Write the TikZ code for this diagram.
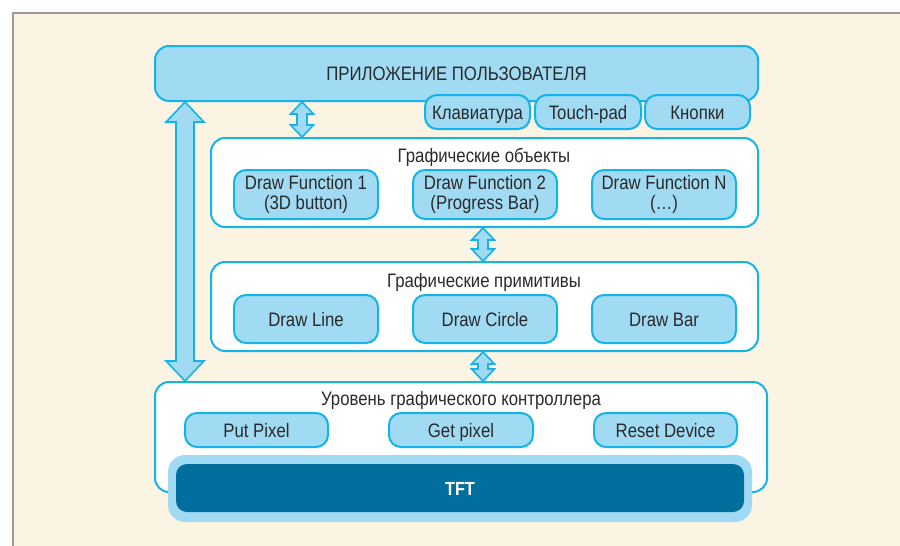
\documentclass[tikz,border=0pt]{standalone}
\usepackage{fontspec}
\setmainfont[FakeStretch=0.86]{Liberation Sans}
\usetikzlibrary{calc}
\definecolor{cream}{HTML}{FCF4E3}
\definecolor{frame}{HTML}{9B9B9B}
\definecolor{lblue}{HTML}{A1DAF3}
\definecolor{cyanline}{HTML}{14B4EA}
\definecolor{tftdark}{HTML}{006F9E}
\definecolor{ink}{HTML}{2A2A2A}

\tikzset{
  base/.style={inner sep=0pt, line width=2pt, draw=cyanline, text=ink,
    font=\fontsize{19.5}{20.5}\selectfont, align=center},
  layer/.style={base, fill=white, rounded corners=14pt},
  btn/.style={base, fill=lblue, rounded corners=12pt},
  oneline/.style={text height=14pt, text depth=0pt},
  title/.style={inner sep=0pt, text=ink, font=\fontsize{19.5}{20.5}\selectfont, oneline},
  arr/.style={fill=lblue, draw=cyanline, line width=1.6pt, line join=miter}
}

% vertical double arrow between two points:
% #1 top tip, #2 bottom tip, #3 head half width, #4 shaft half width, #5 head length
\newcommand\vdarrow[5]{%
  \draw[arr] let \p1=#1, \p2=#2 in
    (\x1,\y1) -- (\x1+#3pt,\y1-#5pt) -- (\x1+#4pt,\y1-#5pt)
    -- (\x1+#4pt,\y2+#5pt) -- (\x1+#3pt,\y2+#5pt) -- (\x1,\y2)
    -- (\x1-#3pt,\y2+#5pt) -- (\x1-#4pt,\y2+#5pt)
    -- (\x1-#4pt,\y1-#5pt) -- (\x1-#3pt,\y1-#5pt) -- cycle;}

\begin{document}
\begin{tikzpicture}[x=1pt,y=-1pt]
  \useasboundingbox (0,0) rectangle (900,546);
  \begin{scope}
    \clip (0,0) rectangle (900,546);
    \draw[frame, fill=cream, line width=2pt] (12.5,12.5) rectangle (920,570);
  \end{scope}

  % user application
  \node[btn, oneline, rounded corners=14pt, minimum width=603pt, minimum height=55pt]
    (app) at (456.5,73.5) {ПРИЛОЖЕНИЕ ПОЛЬЗОВАТЕЛЯ};
  \node[btn, oneline, minimum width=105pt, minimum height=34pt] (kbd) at (477.5,112) {Клавиатура};
  \node[btn, oneline, minimum width=106pt, minimum height=34pt] (tpad) at (588,112) {Touch-pad};
  \node[btn, oneline, minimum width=105pt, minimum height=34pt] (keys) at (697.5,112) {Кнопки};

  % graphic objects
  \node[layer, minimum width=547pt, minimum height=89pt] (obj) at (484.5,182.5) {};
  \node[title] (objt) at (484,155) {Графические объекты};
  \node[btn, minimum width=144pt, minimum height=49pt] (df1) at (306,194.5)
    {Draw Function 1\\(3D button)};
  \node[btn, minimum width=144pt, minimum height=49pt] (df2) at (485,194.5)
    {Draw Function 2\\(Progress Bar)};
  \node[btn, minimum width=144pt, minimum height=49pt] (dfn) at (664,194.5)
    {Draw Function N\\(\ldots)};

  % graphic primitives
  \node[layer, minimum width=547pt, minimum height=89pt] (prim) at (484.5,306.5) {};
  \node[title] (primt) at (484,280) {Графические примитивы};
  \node[btn, oneline, minimum width=144pt, minimum height=48pt] (line) at (306,319) {Draw Line};
  \node[btn, oneline, minimum width=144pt, minimum height=48pt] (circ) at (485,319) {Draw Circle};
  \node[btn, oneline, minimum width=144pt, minimum height=48pt] (bar) at (664,319) {Draw Bar};

  % graphic controller level
  \node[layer, minimum width=612pt, minimum height=110pt] (ctrl) at (461,437) {};
  \node[title] (ctrlt) at (461,398) {Уровень графического контроллера};
  \node[btn, oneline, minimum width=143pt, minimum height=34pt] (put) at (256.5,430) {Put Pixel};
  \node[btn, oneline, minimum width=144pt, minimum height=34pt] (get) at (461,430) {Get pixel};
  \node[btn, oneline, minimum width=143pt, minimum height=34pt] (rst) at (665.5,430) {Reset Device};

  % display
  \node[inner sep=0pt, fill=lblue, rounded corners=17pt, minimum width=584pt,
    minimum height=67pt] (tftout) at (460,488.5) {};
  \node[inner sep=0pt, fill=tftdark, rounded corners=11pt, minimum width=568pt,
    minimum height=48pt, text=white, oneline,
    font=\fontsize{19}{20}\selectfont\bfseries]
    (tft) at (460,488) {TFT};

  % data paths between levels
  \vdarrow{(185,0 |- app.south)}{(185,0 |- ctrl.north)}{19}{9}{20}
  \vdarrow{(302,0 |- app.south)}{(302,0 |- obj.north)}{11.5}{5}{12}
  \vdarrow{(483,0 |- obj.south)}{(483,0 |- prim.north)}{11.5}{5}{12}
  \vdarrow{(483,0 |- prim.south)}{(483,0 |- ctrl.north)}{11.5}{5}{12}
\end{tikzpicture}
\end{document}
